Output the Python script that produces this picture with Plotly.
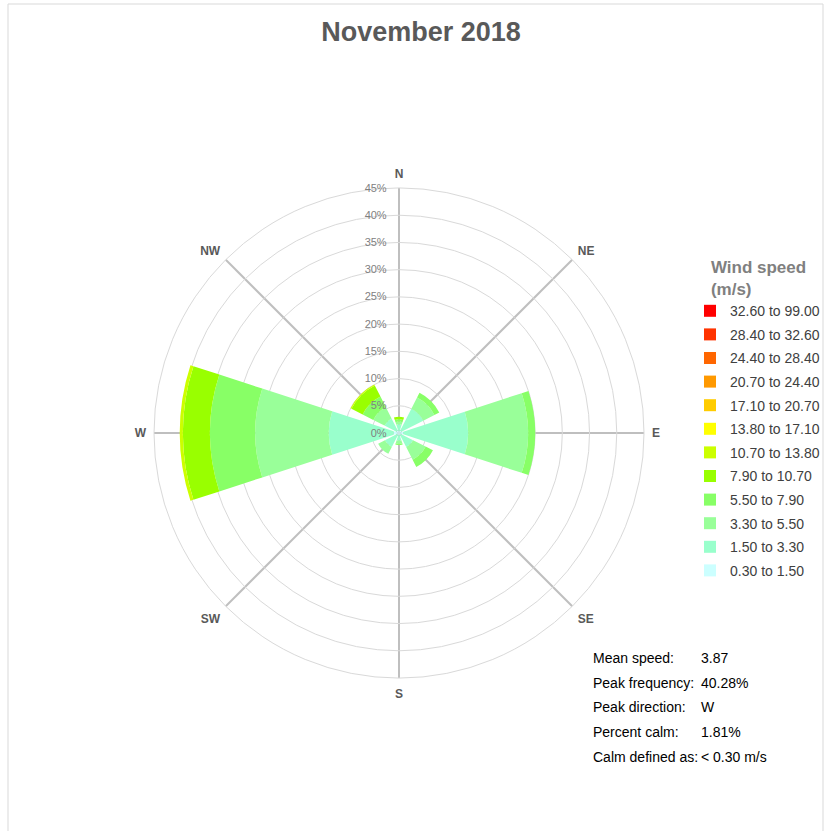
import plotly.graph_objects as go

directions = ["N", "NE", "E", "SE", "S", "SW", "W", "NW"]
direction_deg = [0, 45, 90, 135, 180, 225, 270, 315]

speed_bins = ["0.30 to 1.50", "1.50 to 3.30", "3.30 to 5.50", "5.50 to 7.90",
              "7.90 to 10.70", "10.70 to 13.80", "13.80 to 17.10", "17.10 to 20.70",
              "20.70 to 24.40", "24.40 to 28.40", "28.40 to 32.60", "32.60 to 99.00"]
bin_colors = ["#ccffff", "#99ffcc", "#99ff99", "#88ff66", "#99ff00", "#ccff00",
              "#ffff00", "#ffcc00", "#ff9900", "#ff6600", "#ff3300", "#ff0000"]

# frequency (%) per direction for each speed bin
freq_0_3 = [0.4, 0.5, 0.8, 0.4, 0.4, 0.4, 1.0, 0.5]
freq_1_5 = [1.2, 4.5, 11.9, 2.5, 1.0, 2.5, 11.9, 2.5]
freq_3_3 = [0.5, 2.3, 11.0, 2.6, 0.6, 1.4, 13.5, 2.3]
freq_5_5 = [0.4, 1.0, 1.3, 1.5, 0.2, 0.0, 8.3, 2.2]
freq_7_9 = [0.5, 0.0, 0.0, 0.0, 0.0, 0.0, 5.0, 2.3]
freq_10_7 = [0.0, 0.0, 0.0, 0.0, 0.0, 0.0, 0.58, 0.2]
freq_13_8 = [0, 0, 0, 0, 0, 0, 0, 0]
freq_17_1 = [0, 0, 0, 0, 0, 0, 0, 0]
freq_20_7 = [0, 0, 0, 0, 0, 0, 0, 0]
freq_24_4 = [0, 0, 0, 0, 0, 0, 0, 0]
freq_28_4 = [0, 0, 0, 0, 0, 0, 0, 0]
freq_32_6 = [0, 0, 0, 0, 0, 0, 0, 0]
freqs = [freq_0_3, freq_1_5, freq_3_3, freq_5_5, freq_7_9, freq_10_7,
         freq_13_8, freq_17_1, freq_20_7, freq_24_4, freq_28_4, freq_32_6]

radial_ticks = [0, 5, 10, 15, 20, 25, 30, 35, 40, 45]

stat_labels = ["Mean speed:", "Peak frequency:", "Peak direction:", "Percent calm:", "Calm defined as:"]
stat_values = ["3.87", "40.28%", "W", "1.81%", "< 0.30 m/s"]

FONT = "Arial, 'Liberation Sans', sans-serif"

fig = go.Figure()
for i, (name, color, vals) in enumerate(zip(speed_bins, bin_colors, freqs)):
    fig.add_trace(go.Barpolar(
        r=vals, theta=direction_deg, name=name, width=36,
        marker=dict(color=color, line=dict(width=0)),
        legendgroup=name, legendrank=1000 - i,
    ))

W, H = 825, 831
cx, cy, rad = 399, 433, 245
dom_x = [(cx - rad) / W, (cx + rad) / W]
dom_y = [(H - cy - rad) / H, (H - cy + rad) / H]

fig.update_layout(
    width=W, height=H,
    margin=dict(l=0, r=0, t=0, b=0),
    paper_bgcolor="white", plot_bgcolor="white",
    font=dict(family=FONT, color="#404040"),
    title=dict(text="<b>November 2018</b>", x=421 / W, xanchor="center",
               y=1 - 32 / H, yanchor="middle",
               font=dict(size=27, color="#595959", family=FONT)),
    polar=dict(
        domain=dict(x=dom_x, y=dom_y),
        bgcolor="white",
        barmode="stack",
        angularaxis=dict(
            rotation=90, direction="clockwise",
            tickmode="array", tickvals=direction_deg,
            ticktext=["<b>%s</b>" % d for d in directions],
            tickfont=dict(size=12, color="#595959", family=FONT),
            showgrid=True, gridcolor="#bfbfbf", gridwidth=1.5,
            showline=True, linecolor="#d9d9d9", linewidth=1,
            ticks="outside", ticklen=5, tickcolor="rgba(255,255,255,0)",
        ),
        radialaxis=dict(
            range=[0, 45], tickmode="array", tickvals=radial_ticks,
            ticktext=["%d%%" % v for v in radial_ticks],
            angle=90, side="counterclockwise", tickangle=90,
            tickfont=dict(size=11, color="#808080", family=FONT),
            showgrid=True, gridcolor="#d9d9d9", gridwidth=1,
            showline=False,
            ticks="outside", ticklen=8, tickcolor="rgba(255,255,255,0)",
        ),
    ),
    legend=dict(
        title=dict(text="<b>&nbsp;&nbsp;&nbsp;&nbsp;Wind speed<br>&nbsp;&nbsp;&nbsp;&nbsp;(m/s)</b>",
                   font=dict(size=17, color="#808080", family=FONT)),
        x=690 / W, xanchor="left", y=1 - 251 / H, yanchor="top",
        traceorder="grouped", tracegroupgap=2.4,
        font=dict(size=14, color="#404040", family=FONT),
        itemclick=False, itemdoubleclick=False,
        bgcolor="rgba(0,0,0,0)",
    ),
    shapes=[dict(type="rect", xref="paper", yref="paper",
                 x0=8 / W, x1=823 / W, y0=-10 / H, y1=1 - 4 / H,
                 line=dict(color="#d9d9d9", width=1), fillcolor="rgba(0,0,0,0)",
                 layer="below")],
)

ys = [658, 683, 707, 732, 757]
for lab, val, yy in zip(stat_labels, stat_values, ys):
    fig.add_annotation(text=lab, x=591 / W, y=1 - yy / H, xref="paper", yref="paper",
                       xanchor="left", yanchor="middle", showarrow=False,
                       font=dict(size=14, color="#000000", family=FONT))
    fig.add_annotation(text=val, x=699 / W, y=1 - yy / H, xref="paper", yref="paper",
                       xanchor="left", yanchor="middle", showarrow=False,
                       font=dict(size=14, color="#000000", family=FONT))

fig.write_html("out.html", config={"displayModeBar": False},
               post_script="document.body.style.margin='0';")
